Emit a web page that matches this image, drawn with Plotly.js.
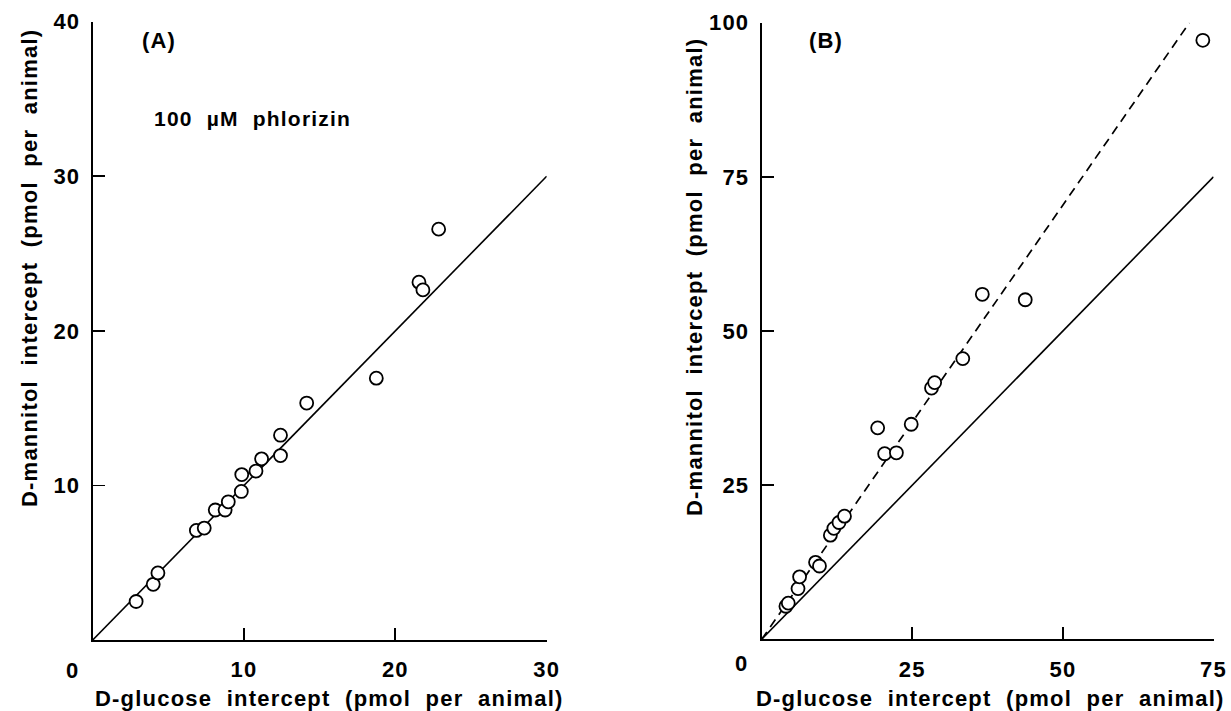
<!DOCTYPE html>
<html>
<head>
<meta charset="utf-8">
<script src="https://cdn.plot.ly/plotly-3.0.1.min.js"></script>
<style>
  html, body { margin: 0; padding: 0; background: #fff; }
  #chart { width: 1231px; height: 711px; }
  svg text { letter-spacing: 1.2px; }
</style>
</head>
<body>
<div id="chart"></div>
<script>
// ---- Panel A data (100 µM phlorizin) ----
const aGlucose  = [2.87, 4.0, 4.31, 6.85, 7.37, 8.10, 8.75, 8.96, 9.82, 9.85, 10.79, 11.16, 12.41, 12.41, 14.14, 18.74, 21.56, 21.82, 22.86];
const aMannitol = [2.49, 3.6, 4.34, 7.09, 7.24, 8.41, 8.41, 8.94, 9.61, 10.70, 10.93, 11.72, 11.93, 13.25, 15.33, 16.94, 23.15, 22.65, 26.58];
const aLineX = [0, 30];
const aLineY = [0, 30];

// ---- Panel B data ----
const bGlucose  = [4.02, 4.41, 6.03, 6.29, 8.94, 9.59, 11.40, 11.98, 12.83, 13.74, 19.25, 20.41, 22.36, 24.82, 28.19, 28.71, 33.38, 36.62, 43.75, 73.23];
const bMannitol = [5.36, 5.87, 8.22, 10.13, 12.48, 11.89, 16.89, 17.99, 18.94, 19.97, 34.29, 30.10, 30.25, 34.88, 40.75, 41.63, 45.52, 55.95, 55.07, 97.14];
const bIdentityX = [0, 75];
const bIdentityY = [0, 75];
const bFitX = [0, 71];
const bFitY = [0, 100];

// ---- tick labels ----
const aXTicks = [10, 20, 30];
const aYTicks = [10, 20, 30, 40];
const bXTicks = [25, 50, 75];
const bYTicks = [25, 50, 75, 100];

const xTitle = 'D-glucose\u00a0 intercept\u00a0 (pmol\u00a0 per\u00a0 animal)';
const yTitle = 'D-mannitol\u00a0 intercept\u00a0 (pmol\u00a0 per\u00a0 animal)';

const W = 1231, H = 711;
const px = v => v / W;
const py = v => 1 - v / H;

const FONT = {family: 'Liberation Sans, Arial, sans-serif', size: 22, color: '#000', weight: 'bold'};
const markerStyle = {symbol: 'circle', size: 13, color: '#fff', line: {color: '#000', width: 1.8}};

const traces = [
  {x: aLineX, y: aLineY, xaxis: 'x', yaxis: 'y', mode: 'lines', line: {color: '#000', width: 1.6}, hoverinfo: 'skip'},
  {x: aGlucose, y: aMannitol, xaxis: 'x', yaxis: 'y', mode: 'markers', marker: markerStyle, cliponaxis: false},
  {x: bIdentityX, y: bIdentityY, xaxis: 'x2', yaxis: 'y2', mode: 'lines', line: {color: '#000', width: 1.6}, hoverinfo: 'skip'},
  {x: bFitX, y: bFitY, xaxis: 'x2', yaxis: 'y2', mode: 'lines', line: {color: '#000', width: 1.7, dash: '9px,6px'}, hoverinfo: 'skip'},
  {x: bGlucose, y: bMannitol, xaxis: 'x2', yaxis: 'y2', mode: 'markers', marker: markerStyle, cliponaxis: false}
];

function axis(range, ticks, domain, anchor, isX) {
  return {
    range: range, domain: domain, anchor: anchor,
    tickmode: 'array', tickvals: ticks, ticktext: ticks.map(String),
    ticks: 'inside', ticklen: 12, tickwidth: 1.8, tickcolor: '#000',
    showline: true, linewidth: 2, linecolor: '#000',
    showgrid: false, zeroline: false, mirror: false,
    tickfont: FONT, ticklabelstandoff: isX ? 9 : 6,
    fixedrange: true
  };
}

const ann = (text, x, y, opts) => Object.assign({
  text: text, x: x, y: y, xref: 'paper', yref: 'paper', showarrow: false,
  xanchor: 'center', yanchor: 'middle', font: FONT
}, opts || {});

const layout = {
  width: W, height: H,
  margin: {l: 0, r: 0, t: 0, b: 0},
  paper_bgcolor: '#fff', plot_bgcolor: '#fff',
  showlegend: false,
  xaxis:  axis([0, 30], aXTicks, [px(92.7), px(546.7)], 'y', true),
  yaxis:  axis([0, 40], aYTicks, [1 - 640 / H, 1 - 21.7 / H], 'x', false),
  xaxis2: axis([0, 75], bXTicks, [px(761.7), px(1213.5)], 'y2', true),
  yaxis2: axis([0, 100], bYTicks, [1 - 639.3 / H, 1 - 22.7 / H], 'x2', false),
  annotations: [
    ann('(A)', px(159), py(40)),
    ann('(B)', px(826), py(40)),
    ann('100\u00a0 µM\u00a0 phlorizin', px(152), py(118), {xanchor: 'left', font: Object.assign({}, FONT, {size: 21})}),
    ann('0', px(72), py(670)),
    ann('0', px(741), py(663)),
    ann(xTitle, px(329), py(698)),
    ann(xTitle, px(990), py(698)),
    ann(yTitle, px(29), py(268), {textangle: -90}),
    ann(yTitle, px(694), py(277), {textangle: -90})
  ]
};

Plotly.newPlot('chart', traces, layout, {staticPlot: true, displayModeBar: false});
</script>
</body>
</html>
